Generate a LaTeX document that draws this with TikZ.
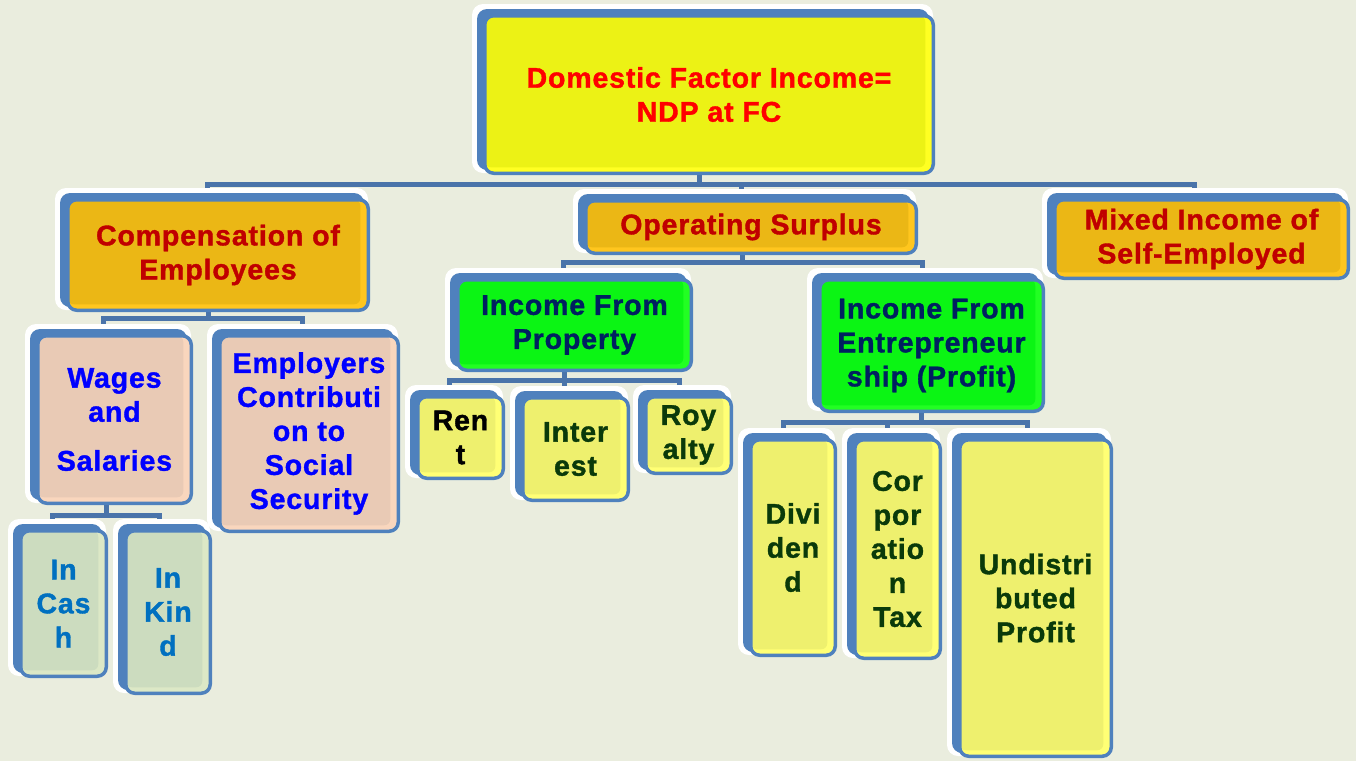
\documentclass[tikz,border=0pt]{standalone}
\usepackage{fontspec}
\newfontfamily\hv{Liberation Sans}[LetterSpace=3, BoldFeatures={FakeBold=1.3}]
\pgfdeclarelayer{backdrop}
\pgfdeclarelayer{back}
\pgfsetlayers{backdrop,back,main}
\definecolor{bgc}{HTML}{EAEDDE}
\definecolor{bord}{HTML}{4F81BD}
\definecolor{connc}{HTML}{4A74AA}
\definecolor{yelM}{HTML}{ECF215}
\definecolor{yelS}{HTML}{FFFF22}
\definecolor{orgM}{HTML}{EBB715}
\definecolor{orgS}{HTML}{FFC61E}
\definecolor{pchM}{HTML}{E9CAB5}
\definecolor{pchS}{HTML}{F9D6BD}
\definecolor{grnM}{HTML}{0BF514}
\definecolor{grnS}{HTML}{22FF22}
\definecolor{pylM}{HTML}{EEF06E}
\definecolor{pylS}{HTML}{FFFF75}
\definecolor{sgeM}{HTML}{CCDCBF}
\definecolor{sgeS}{HTML}{DCE8C6}
\definecolor{redA}{HTML}{FF0000}
\definecolor{redB}{HTML}{C00000}
\definecolor{bluA}{HTML}{0000FF}
\definecolor{navy}{HTML}{002060}
\definecolor{dgrn}{HTML}{0A3A0A}
\definecolor{bluB}{HTML}{0070C0}
\tikzset{
  obox/.style={draw=bord, line width=3.5pt, rounded corners=9pt, inner sep=0pt,
    align=center, font=\hv\bfseries\fontsize{28.5}{34}\selectfont},
  conn/.style={draw=connc, line width=5pt}
}
% name, x1, y1, x2, y2, main fill, strip fill, text colour, text
\newcommand\bx[9]{%
  \fill[white, rounded corners=11pt] ({#2-11},{#3-10}) rectangle ({#4-2},{#5-2});
  \fill[bord, rounded corners=10pt] ({#2-6},{#3-5}) rectangle ({#4-6},{#5-5});
  \node[obox, fill=#7, text=#8, minimum width={#4-#2-3.5}, minimum height={#5-#3-3.5},
    path picture={\fill[#6, rounded corners=6pt] (path picture bounding box.north west)
      rectangle ([xshift=-8pt,yshift=6pt]path picture bounding box.south east);}]
    (#1) at ({(#2+#4)/2},{(#3+#5)/2}) {#9};
}
\begin{document}
\begin{tikzpicture}[x=1pt,y=-1pt]
\useasboundingbox (0,0) rectangle (1356,761);
\begin{pgfonlayer}{backdrop}
\fill[bgc] (0,0) rectangle (1356,761);
\end{pgfonlayer}

\bx{root}{483}{14}{935}{175}{yelM}{yelS}{redA}{Domestic Factor Income=\\NDP at FC}
\bx{comp}{66}{198}{370}{312}{orgM}{orgS}{redB}{Compensation of\\Employees}
\bx{op}{584}{199}{918}{255}{orgM}{orgS}{redB}{Operating Surplus}
\bx{mixed}{1053}{198}{1350}{280}{orgM}{orgS}{redB}{Mixed Income of\\Self-Employed}
\bx{wages}{36}{334}{193}{505}{pchM}{pchS}{bluA}{Wages\\and\\[15pt]Salaries}
\bx{employ}{218}{334}{400}{533}{pchM}{pchS}{bluA}{Employers\\Contributi\\on to\\Social\\Security}
\bx{prop}{456}{278}{693}{372}{grnM}{grnS}{navy}{Income From\\Property}
\bx{entre}{818}{278}{1045}{413}{grnM}{grnS}{navy}{Income From\\Entrepreneur\\ship (Profit)}
\bx{rent}{416}{395}{505}{480}{pylM}{pylS}{black}{Ren\\t}
\bx{inter}{521}{396}{630}{502}{pylM}{pylS}{dgrn}{Inter\\est}
\bx{roy}{644}{395}{733}{475}{pylM}{pylS}{dgrn}{Roy\\alty}
\bx{divi}{749}{438}{837}{657}{pylM}{pylS}{dgrn}{Divi\\den\\d}
\bx{corp}{853}{438}{942}{660}{pylM}{pylS}{dgrn}{Cor\\por\\atio\\n\\Tax}
\bx{undist}{958}{438}{1113}{758}{pylM}{pylS}{dgrn}{Undistri\\buted\\Profit}
\bx{cash}{19}{529}{108}{678}{sgeM}{sgeS}{bluB}{In\\Cas\\h}
\bx{kind}{124}{529}{212}{695}{sgeM}{sgeS}{bluB}{In\\Kin\\d}

\coordinate (busR) at (699,184);
\coordinate (busC) at (208,318);
\coordinate (busW) at (106,515);
\coordinate (busO) at (742,262);
\coordinate (busP) at (564,380);
\coordinate (busE) at (921,422);

\begin{pgfonlayer}{back}
% root
\draw[conn] ([xshift=-10pt]root.south) -- ([xshift=-10pt]root.south |- busR);
\draw[conn] ([xshift=-11pt]comp.north) |- (busR) -| ([xshift=-7.5pt]mixed.north);
\draw[conn] ([xshift=-10pt]op.north) -- ([xshift=-10pt]op.north |- busR);
% compensation
\draw[conn] ([xshift=-10pt]comp.south) -- ([xshift=-10pt]comp.south |- busC);
\draw[conn] ([xshift=-11.5pt]wages.north) |- (busC) -| ([xshift=-7pt]employ.north);
% wages
\draw[conn] ([xshift=-8.5pt]wages.south) -- ([xshift=-8.5pt]wages.south |- busW);
\draw[conn] ([xshift=-11.5pt]cash.north) |- (busW) -| ([xshift=-9pt]kind.north);
% operating surplus
\draw[conn] ([xshift=-9pt]op.south) -- ([xshift=-9pt]op.south |- busO);
\draw[conn] ([xshift=-11.5pt]prop.north) |- (busO) -| ([xshift=-9.5pt]entre.north);
% property
\draw[conn] ([xshift=-10.5pt]prop.south) -- ([xshift=-10.5pt]prop.south |- busP);
\draw[conn] ([xshift=-11.5pt]rent.north) |- (busP) -| ([xshift=-9.5pt]roy.north);
\draw[conn] ([xshift=-11.5pt]inter.north) -- ([xshift=-11.5pt]inter.north |- busP);
% entrepreneurship
\draw[conn] ([xshift=-10.5pt]entre.south) -- ([xshift=-10.5pt]entre.south |- busE);
\draw[conn] ([xshift=-10pt]divi.north) |- (busE) -| ([xshift=-8.5pt]undist.north);
\draw[conn] ([xshift=-10.5pt]corp.north) -- ([xshift=-10.5pt]corp.north |- busE);
\end{pgfonlayer}
\end{tikzpicture}
\end{document}
